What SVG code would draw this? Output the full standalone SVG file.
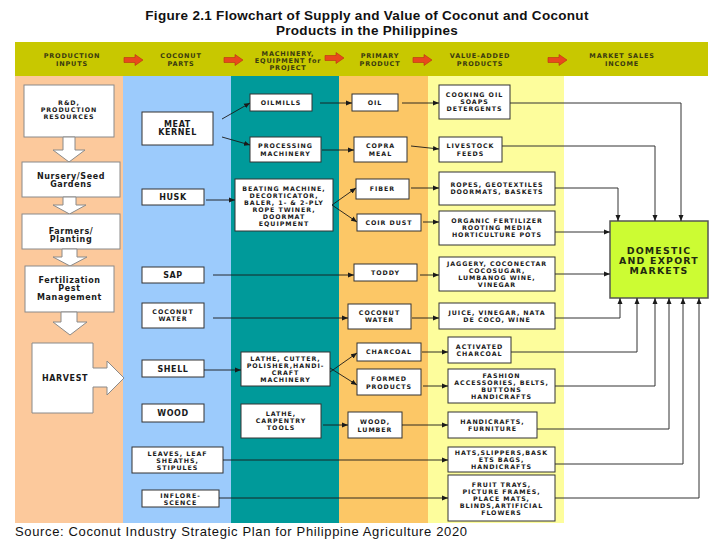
<svg xmlns="http://www.w3.org/2000/svg" width="720" height="540" viewBox="0 0 720 540">
<style>
.title{font-family:"Liberation Sans",Arial,sans-serif;font-weight:bold;font-size:13.5px;letter-spacing:0.3px;fill:#111;text-anchor:middle}
.src{font-family:"Liberation Sans",Arial,sans-serif;font-size:13px;fill:#111}
.hd{font-family:"DejaVu Sans",Verdana,sans-serif;font-weight:bold;font-size:6.5px;letter-spacing:0.8px;fill:#3a3a10;text-anchor:middle}
.t{font-family:"DejaVu Sans",Verdana,sans-serif;font-weight:bold;font-size:6.3px;letter-spacing:0.95px;fill:#1a1a1a;text-anchor:middle}
.tb{font-family:"DejaVu Sans",Verdana,sans-serif;font-weight:bold;font-size:8px;letter-spacing:0.6px;fill:#1a1a1a;text-anchor:middle}
.mk{font-family:"DejaVu Sans",Verdana,sans-serif;font-weight:bold;font-size:9.4px;letter-spacing:1.2px;fill:#1f2a10;text-anchor:middle}
.box{fill:#fff;stroke:#333;stroke-width:1}
.lbox{fill:#fff;stroke:#8a8a8a;stroke-width:1}
.blk{fill:#fff;stroke:#8a8a8a;stroke-width:1}
.c{fill:none;stroke:#1a1a1a;stroke-width:0.9;marker-end:url(#ah)}
.m{fill:none;stroke:#333;stroke-width:1;marker-end:url(#ah)}
.ha{fill:#e8491d;stroke:#b83010;stroke-width:0.6}
</style>
<defs>
<marker id="ah" markerUnits="userSpaceOnUse" markerWidth="7" markerHeight="6" refX="6" refY="3" orient="auto">
<path d="M0,0.5 L6,3 L0,5.5 z" fill="#1a1a1a"/>
</marker>
<path id="harr" class="ha" d="M0,-2.5 H11 V-5.5 L19,0 L11,5.5 V2.5 H0 Z"/>
</defs>

<rect width="720" height="540" fill="#fff"/>

<text class="title" x="367" y="19.5">Figure 2.1 Flowchart of Supply and Value of Coconut and Coconut</text>
<text class="title" x="367" y="35">Products in the Philippines</text>

<g id="header">
<rect x="15" y="42" width="693" height="34" fill="#c8c800"/>
<text class="hd" x="72" y="58.3">PRODUCTION</text>
<text class="hd" x="72" y="66.3">INPUTS</text>
<text class="hd" x="181" y="58.3">COCONUT</text>
<text class="hd" x="181" y="66.3">PARTS</text>
<text class="hd" x="288" y="56.3">MACHINERY,</text>
<text class="hd" x="288" y="63.3">EQUIPMENT for</text>
<text class="hd" x="288" y="70.3">PROJECT</text>
<text class="hd" x="380" y="58.3">PRIMARY</text>
<text class="hd" x="380" y="66.3">PRODUCT</text>
<text class="hd" x="480" y="58.3">VALUE-ADDED</text>
<text class="hd" x="480" y="66.3">PRODUCTS</text>
<text class="hd" x="622" y="58.3">MARKET SALES</text>
<text class="hd" x="622" y="66.3">INCOME</text>
<use href="#harr" x="124" y="60"/>
<use href="#harr" x="224" y="60"/>
<use href="#harr" x="325" y="58"/>
<use href="#harr" x="413" y="60"/>
<use href="#harr" x="548" y="60"/>
</g>

<g id="columns">
<rect x="15" y="76" width="108" height="447" fill="#fcc99c"/>
<rect x="123" y="76" width="108" height="447" fill="#9ccbfc"/>
<rect x="231" y="76" width="108" height="447" fill="#009a9a"/>
<rect x="339" y="76" width="89" height="447" fill="#fcc766"/>
<rect x="428" y="76" width="136" height="447" fill="#fdfd9c"/>
</g>

<g id="rnd"><rect class="lbox" x="24" y="85" width="90" height="52"/>
<text class="t" x="69" y="105.3">R&amp;D,</text><text class="t" x="69" y="112.3">PRODUCTION</text><text class="t" x="69" y="119.3">RESOURCES</text></g>
<g id="arr1"><polygon class="blk" points="63,137 75,137 75,150 85,150 69,162 53,150 63,150"/></g>
<g id="nursery"><rect class="lbox" x="22" y="162" width="98" height="35"/>
<text class="tb" x="71" y="178.8">Nursery/Seed</text><text class="tb" x="71" y="187.3">Gardens</text></g>
<g id="arr2"><polygon class="blk" points="63,197 76,197 76,205 86,205 69.5,214 53,205 63,205"/></g>
<g id="farmers"><rect class="lbox" x="22" y="214" width="98" height="35"/>
<text class="tb" x="71" y="233.8">Farmers/</text><text class="tb" x="71" y="242.3">Planting</text></g>
<g id="arr3"><polygon class="blk" points="62,249 77,249 77,257 87,257 70,266 53,257 62,257"/></g>
<g id="fert"><rect class="lbox" x="25" y="266" width="89" height="46"/>
<text class="tb" x="69.5" y="282.8">Fertilization</text><text class="tb" x="69.5" y="291.3">Pest</text><text class="tb" x="69.5" y="299.8">Management</text></g>
<g id="arr4"><polygon class="blk" points="61,312 77,312 77,322 87,322 70,335 53,322 61,322"/></g>
<g id="harvest"><polygon class="blk" points="32,343 93,343 93,368 107,368 107,361 124,378 107,395 107,387 93,387 93,413 32,413"/>
<text class="tb" x="65" y="381">HARVEST</text></g>

<g id="meat"><rect class="box" x="142" y="112" width="71" height="33"/>
<text class="tb" x="177.5" y="126.8">MEAT</text><text class="tb" x="177.5" y="135.3">KERNEL</text></g>
<g id="husk"><rect class="box" x="142" y="189" width="62" height="16"/><text class="tb" x="173" y="200">HUSK</text></g>
<g id="sap"><rect class="box" x="142" y="267" width="62" height="16"/><text class="tb" x="173" y="278">SAP</text></g>
<g id="cwater"><rect class="box" x="142" y="303" width="62" height="25"/>
<text class="t" x="173" y="314.3">COCONUT</text><text class="t" x="173" y="321.3">WATER</text></g>
<g id="shell"><rect class="box" x="142" y="360" width="62" height="17"/><text class="tb" x="173" y="371.8">SHELL</text></g>
<g id="wood"><rect class="box" x="142" y="404" width="62" height="18"/><text class="tb" x="173" y="415.8">WOOD</text></g>
<g id="leaves"><rect class="box" x="132" y="447" width="91" height="26"/>
<text class="t" x="177.5" y="456.3">LEAVES, LEAF</text><text class="t" x="177.5" y="463.3">SHEATHS,</text><text class="t" x="177.5" y="470.3">STIPULES</text></g>
<g id="inflore"><rect class="box" x="142" y="490" width="77" height="17"/>
<text class="t" x="180.5" y="497.8">INFLORE-</text><text class="t" x="180.5" y="504.8">SCENCE</text></g>

<g id="oilmills"><rect class="box" x="250" y="94" width="62" height="17"/><text class="t" x="281" y="105.3">OILMILLS</text></g>
<g id="procmach"><rect class="box" x="250" y="137" width="71" height="25"/>
<text class="t" x="285.5" y="148.3">PROCESSING</text><text class="t" x="285.5" y="156.3">MACHINERY</text></g>
<g id="beating"><rect class="box" x="235" y="179" width="98" height="52"/>
<text class="t" x="284" y="191.3">BEATING MACHINE,</text><text class="t" x="284" y="198.3">DECORTICATOR,</text><text class="t" x="284" y="205.3">BALER, 1- &amp; 2-PLY</text>
<text class="t" x="284" y="212.3">ROPE TWINER,</text><text class="t" x="284" y="219.3">DOORMAT</text><text class="t" x="284" y="226.3">EQUIPMENT</text></g>
<g id="lathe1"><rect class="box" x="241" y="352" width="89" height="34"/>
<text class="t" x="285.5" y="361.3">LATHE, CUTTER,</text><text class="t" x="285.5" y="368.3">POLISHER,HANDI-</text><text class="t" x="285.5" y="375.3">CRAFT</text><text class="t" x="285.5" y="382.3">MACHINERY</text></g>
<g id="lathe2"><rect class="box" x="241" y="404" width="80" height="34"/>
<text class="t" x="281" y="416.3">LATHE,</text><text class="t" x="281" y="423.3">CARPENTRY</text><text class="t" x="281" y="430.3">TOOLS</text></g>

<g id="oil"><rect class="box" x="352" y="94" width="46" height="17"/><text class="t" x="375" y="105.3">OIL</text></g>
<g id="copra"><rect class="box" x="354" y="137" width="53" height="25"/>
<text class="t" x="380.5" y="148.3">COPRA</text><text class="t" x="380.5" y="156.3">MEAL</text></g>
<g id="fiber"><rect class="box" x="356" y="179" width="53" height="20"/><text class="t" x="382.5" y="191.3">FIBER</text></g>
<g id="coir"><rect class="box" x="357" y="214" width="64" height="17"/><text class="t" x="389" y="224.8">COIR DUST</text></g>
<g id="toddy"><rect class="box" x="354" y="264" width="63" height="17"/><text class="t" x="385.5" y="275.3">TODDY</text></g>
<g id="cwater2"><rect class="box" x="348" y="304" width="63" height="25"/>
<text class="t" x="379.5" y="315.3">COCONUT</text><text class="t" x="379.5" y="322.3">WATER</text></g>
<g id="charcoal"><rect class="box" x="357" y="343" width="64" height="18"/><text class="t" x="389" y="354.3">CHARCOAL</text></g>
<g id="formed"><rect class="box" x="357" y="369" width="64" height="26"/>
<text class="t" x="389" y="381.3">FORMED</text><text class="t" x="389" y="389">PRODUCTS</text></g>
<g id="lumber"><rect class="box" x="348" y="412" width="54" height="26"/>
<text class="t" x="375" y="424.3">WOOD,</text><text class="t" x="375" y="431.5">LUMBER</text></g>

<g id="cooking"><rect class="box" x="439" y="85" width="71" height="34"/>
<text class="t" x="474.5" y="97.3">COOKING OIL</text><text class="t" x="474.5" y="104.3">SOAPS</text><text class="t" x="474.5" y="111.3">DETERGENTS</text></g>
<g id="livestock"><rect class="box" x="439" y="137" width="63" height="25"/>
<text class="t" x="470.5" y="148.3">LIVESTOCK</text><text class="t" x="470.5" y="156.3">FEEDS</text></g>
<g id="ropes"><rect class="box" x="439" y="172" width="116" height="33"/>
<text class="t" x="497" y="187.3">ROPES, GEOTEXTILES</text><text class="t" x="497" y="194.3">DOORMATS, BASKETS</text></g>
<g id="organic"><rect class="box" x="439" y="211" width="116" height="34"/>
<text class="t" x="497" y="223.3">ORGANIC FERTILIZER</text><text class="t" x="497" y="230.3">ROOTING MEDIA</text><text class="t" x="497" y="237.3">HORTICULTURE POTS</text></g>
<g id="jaggery"><rect class="box" x="439" y="257" width="116" height="34"/>
<text class="t" x="497" y="266.2">JAGGERY, COCONECTAR</text><text class="t" x="497" y="273">COCOSUGAR,</text><text class="t" x="497" y="279.8">LUMBANOG WINE,</text><text class="t" x="497" y="286.6">VINEGAR</text></g>
<g id="juice"><rect class="box" x="439" y="303" width="116" height="26"/>
<text class="t" x="497" y="315.3">JUICE, VINEGAR, NATA</text><text class="t" x="497" y="322.3">DE COCO, WINE</text></g>
<g id="activated"><rect class="box" x="448" y="337" width="63" height="26"/>
<text class="t" x="479.5" y="349.3">ACTIVATED</text><text class="t" x="479.5" y="356.3">CHARCOAL</text></g>
<g id="fashion"><rect class="box" x="448" y="369" width="107" height="34"/>
<text class="t" x="501.5" y="378.3">FASHION</text><text class="t" x="501.5" y="385.3">ACCESSORIES, BELTS,</text><text class="t" x="501.5" y="392.3">BUTTONS</text><text class="t" x="501.5" y="399.3">HANDICRAFTS</text></g>
<g id="handicrafts"><rect class="box" x="448" y="412" width="89" height="26"/>
<text class="t" x="492.5" y="424.3">HANDICRAFTS,</text><text class="t" x="492.5" y="431.3">FURNITURE</text></g>
<g id="hats"><rect class="box" x="448" y="447" width="107" height="25"/>
<text class="t" x="501.5" y="455.3">HATS,SLIPPERS,BASK</text><text class="t" x="501.5" y="462.3">ETS BAGS,</text><text class="t" x="501.5" y="469.3">HANDICRAFTS</text></g>
<g id="fruit"><rect class="box" x="448" y="475" width="107" height="46"/>
<text class="t" x="501.5" y="487.3">FRUIT TRAYS,</text><text class="t" x="501.5" y="494.3">PICTURE FRAMES,</text><text class="t" x="501.5" y="501.3">PLACE MATS,</text><text class="t" x="501.5" y="508.3">BLINDS,ARTIFICIAL</text><text class="t" x="501.5" y="515.3">FLOWERS</text></g>

<g id="market"><rect x="610" y="221" width="98" height="77" fill="#ccfc33" stroke="#555" stroke-width="1.5"/>
<text class="mk" x="659" y="254.3">DOMESTIC</text><text class="mk" x="659" y="264">AND EXPORT</text><text class="mk" x="659" y="273.7">MARKETS</text></g>

<g id="connectors">
<line class="c" x1="222" y1="119" x2="250" y2="103"/>
<line class="c" x1="222" y1="137" x2="250" y2="145"/>
<line class="c" x1="320" y1="103" x2="352" y2="103"/>
<line class="c" x1="322" y1="150" x2="354" y2="150"/>
<line class="c" x1="206" y1="200" x2="235" y2="200"/>
<line class="c" x1="332" y1="205" x2="356" y2="188"/>
<line class="c" x1="332" y1="205" x2="357" y2="222"/>
<line class="c" x1="402" y1="103" x2="439" y2="103"/>
<line class="c" x1="411" y1="146" x2="439" y2="149"/>
<line class="c" x1="411" y1="188" x2="439" y2="188"/>
<line class="c" x1="423" y1="222" x2="439" y2="222"/>
<line class="c" x1="213" y1="275" x2="354" y2="275"/>
<line class="c" x1="213" y1="318" x2="348" y2="318"/>
<line class="c" x1="204" y1="370" x2="241" y2="370"/>
<line class="c" x1="330" y1="372" x2="357" y2="353"/>
<line class="c" x1="330" y1="368" x2="357" y2="385"/>
<line class="c" x1="323" y1="425" x2="348" y2="425"/>
<line class="c" x1="420" y1="275" x2="439" y2="275"/>
<line class="c" x1="412" y1="318" x2="439" y2="318"/>
<line class="c" x1="422" y1="352" x2="448" y2="352"/>
<line class="c" x1="423" y1="386" x2="448" y2="386"/>
<line class="c" x1="402" y1="425" x2="448" y2="425"/>
<line class="c" x1="223" y1="460" x2="448" y2="460"/>
<line class="c" x1="219" y1="498" x2="448" y2="498"/>
<polyline class="m" points="510,103 681,103 681,221"/>
<polyline class="m" points="502,146 655,146 655,221"/>
<polyline class="m" points="555,188 618,188 618,221"/>
<polyline class="m" points="555,232 610,232"/>
<polyline class="m" points="555,274 610,274"/>
<polyline class="m" points="555,318 620,318 620,298"/>
<polyline class="m" points="511,352 637,352 637,298"/>
<polyline class="m" points="555,386 655,386 655,298"/>
<polyline class="m" points="537,429 669,429 669,298"/>
<polyline class="m" points="555,464 683,464 683,298"/>
<polyline class="m" points="555,498 699,498 699,298"/>
</g>

<text class="src" x="15" y="536" textLength="452">Source: Coconut Industry Strategic Plan for Philippine Agriculture 2020</text>
</svg>
